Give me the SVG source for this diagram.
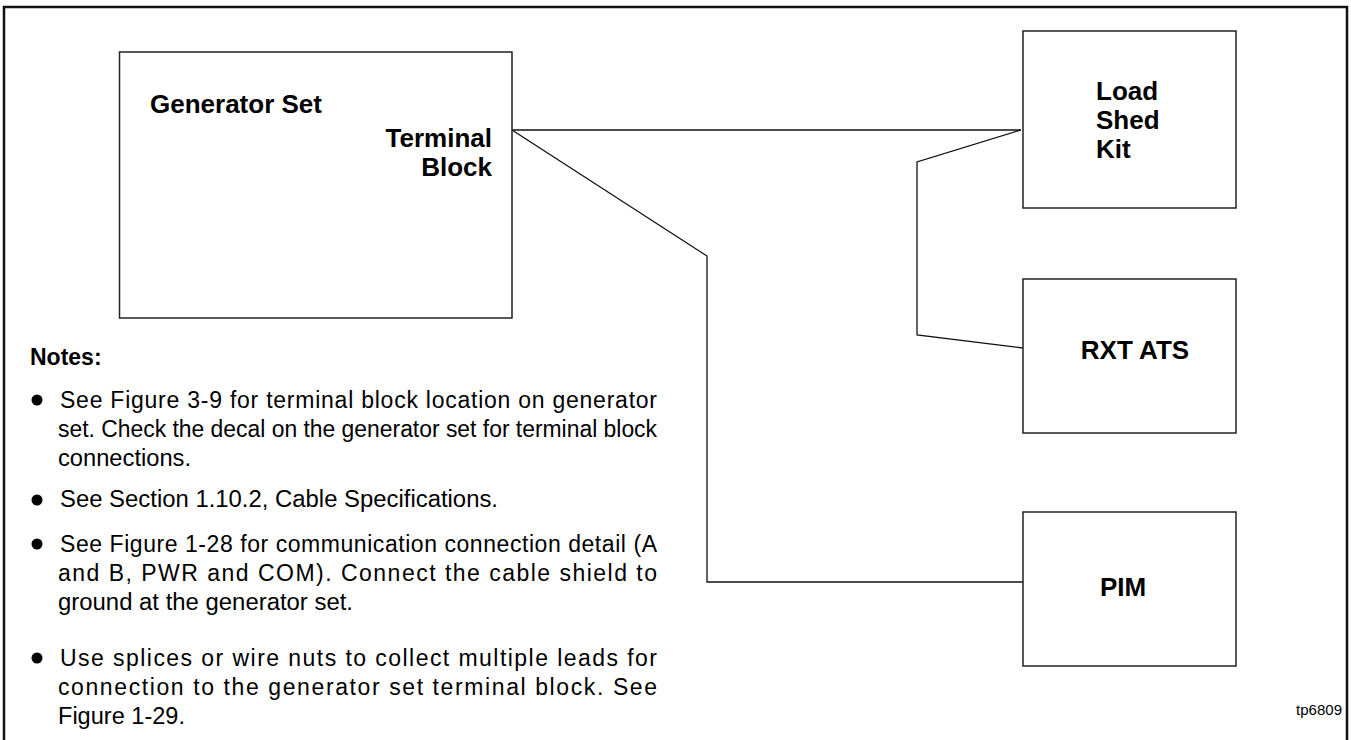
<svg xmlns="http://www.w3.org/2000/svg" width="1351" height="740" viewBox="0 0 1351 740">
<style>
.box{fill:#fff;stroke:#222;stroke-width:1.5}
.wire{fill:none;stroke:#111;stroke-width:1.3}
.lbl{font-family:"Liberation Sans",Arial,sans-serif;font-weight:bold;font-size:26px;fill:#000}
.note{font-family:"Liberation Sans",Arial,sans-serif;font-size:23px;fill:#000}
.hd{font-family:"Liberation Sans",Arial,sans-serif;font-weight:bold;font-size:23px;fill:#000}
.tag{font-family:"Liberation Sans",Arial,sans-serif;font-size:15px;fill:#000}
</style>
<rect x="0" y="0" width="1351" height="740" fill="#fff"/>
<rect x="4" y="7" width="1343" height="780" fill="none" stroke="#111" stroke-width="2.5"/>
<g id="connectors">
<polyline class="wire" points="512,130 1021,130"/>
<polyline class="wire" points="1021,130 917,162 917,335 1023,348"/>
<polyline class="wire" points="512,130 707,256 707,582 1023,582"/>
</g>
<g id="generator-set">
<rect class="box" x="119.5" y="52" width="392.5" height="266"/>
<text class="lbl" x="150" y="113">Generator Set</text>
<text class="lbl" x="492" y="147" text-anchor="end">Terminal</text>
<text class="lbl" x="492" y="176" text-anchor="end">Block</text>
</g>
<g id="load-shed-kit">
<rect class="box" x="1023" y="31" width="213" height="177"/>
<text class="lbl" x="1096" y="100">Load</text>
<text class="lbl" x="1096" y="129">Shed</text>
<text class="lbl" x="1096" y="158">Kit</text>
</g>
<g id="rxt-ats">
<rect class="box" x="1023" y="279" width="213" height="154"/>
<text class="lbl" x="1135" y="359" text-anchor="middle">RXT ATS</text>
</g>
<g id="pim">
<rect class="box" x="1023" y="512" width="213" height="154"/>
<text class="lbl" x="1123" y="596" text-anchor="middle">PIM</text>
</g>
<g id="notes">
<text class="hd" x="30" y="365">Notes:</text>
<circle cx="37" cy="400" r="5.5"/>
<circle cx="37" cy="500" r="5.5"/>
<circle cx="37" cy="544" r="5.5"/>
<circle cx="37" cy="658" r="5.5"/>
<text class="note" x="60" y="408" textLength="597" lengthAdjust="spacing">See Figure 3-9 for terminal block location on generator</text>
<text class="note" x="58" y="437" textLength="599" lengthAdjust="spacingAndGlyphs">set. Check the decal on the generator set for terminal block</text>
<text class="note" x="58" y="466" textLength="133" lengthAdjust="spacingAndGlyphs">connections.</text>
<text class="note" x="60" y="507" textLength="438" lengthAdjust="spacingAndGlyphs">See Section 1.10.2, Cable Specifications.</text>
<text class="note" x="60" y="552" textLength="597" lengthAdjust="spacing">See Figure 1-28 for communication connection detail (A</text>
<text class="note" x="58" y="581" textLength="599" lengthAdjust="spacing">and B, PWR and COM). Connect the cable shield to</text>
<text class="note" x="58" y="610" textLength="295" lengthAdjust="spacingAndGlyphs">ground at the generator set.</text>
<text class="note" x="60" y="666" textLength="597" lengthAdjust="spacing">Use splices or wire nuts to collect multiple leads for</text>
<text class="note" x="58" y="695" textLength="599" lengthAdjust="spacing">connection to the generator set terminal block. See</text>
<text class="note" x="58" y="724" textLength="127" lengthAdjust="spacingAndGlyphs">Figure 1-29.</text>
</g>
<text class="tag" x="1342" y="715" text-anchor="end">tp6809</text>
</svg>
